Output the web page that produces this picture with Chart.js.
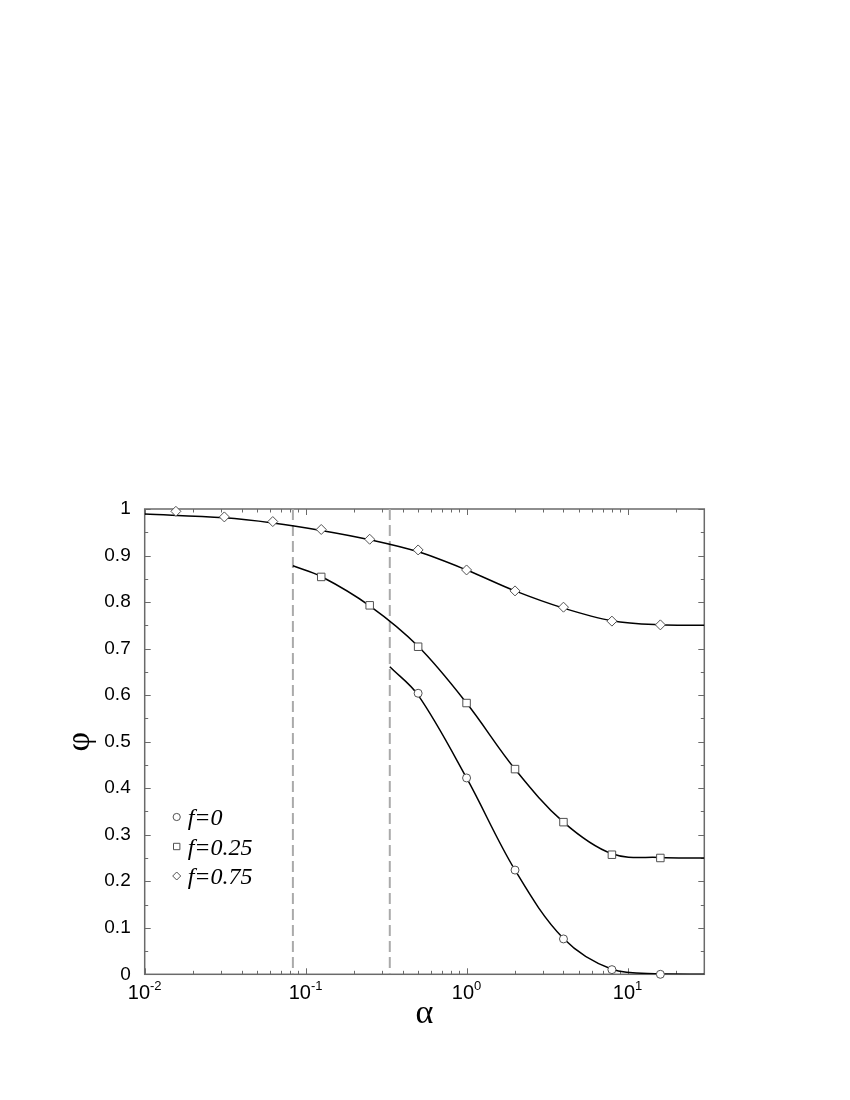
<!DOCTYPE html>
<html>
<head>
<meta charset="utf-8">
<script src="https://cdn.jsdelivr.net/npm/chart.js"></script>
<style>
  body { margin: 0; background: #fff; }
  canvas { display: block; }
</style>
</head>
<body>
<canvas id="phiChart" width="850" height="1100"></canvas>
<script>
// simulation points (open markers)
const alphaF075 = [1/64, 1/32, 1/16, 1/8, 1/4, 1/2, 1, 2, 4, 8, 16];
const phiF075 = [0.995, 0.983, 0.973, 0.956, 0.935, 0.912, 0.869, 0.824, 0.789, 0.759, 0.751];
const alphaF025 = [1/8, 1/4, 1/2, 1, 2, 4, 8, 16];
const phiF025 = [0.854, 0.793, 0.704, 0.583, 0.441, 0.327, 0.257, 0.250];
const alphaF0 = [1/2, 1, 2, 4, 8, 16];
const phiF0 = [0.604, 0.422, 0.224, 0.076, 0.010, 0.000];

// theory curves
const curveA075 = [0.01, 1/32, 1/16, 1/8, 1/4, 1/2, 1, 2, 4, 8, 16, 30];
const curveF075 = [0.989, 0.981, 0.970, 0.954, 0.934, 0.908, 0.869, 0.824, 0.787, 0.760, 0.751, 0.750];
const curveA025 = [1/12, 1/8, 1/4, 1/2, 1, 2, 4, 8, 16, 30];
const curveF025 = [0.878, 0.855, 0.792, 0.705, 0.583, 0.441, 0.327, 0.259, 0.251, 0.250];
const curveA0 = [1/3, 1/2, 1, 2, 4, 8, 16, 30];
const curveF0 = [0.661, 0.600, 0.422, 0.224, 0.077, 0.011, 0.001, 0.000];

// vertical dashed markers
const dashAlpha = [1/12, 1/3];

const legendLabels = ['f=0', 'f=0.25', 'f=0.75'];
const legendStyles = ['circle', 'rect', 'rectRot'];
const xDecades = [-2, -1, 0, 1];

const toPts = (xs, ys) => xs.map((v, i) => ({x: v, y: ys[i]}));

const markerSet = (xs, ys, style, r) => ({
  data: toPts(xs, ys),
  showLine: false,
  pointStyle: style,
  pointRadius: r,
  pointBorderColor: '#505050',
  pointBackgroundColor: '#fff',
  pointBorderWidth: 1,
  clip: false
});

const curveSet = (xs, ys) => ({
  data: toPts(xs, ys),
  borderColor: '#000',
  borderWidth: 1.5,
  pointRadius: 0,
  tension: 0.35,
  fill: false
});

const dashSet = (a) => ({
  data: [{x: a, y: 1}, {x: a, y: 0}],
  borderColor: '#aaaaaa',
  borderWidth: 2,
  borderDash: [11, 5],
  pointRadius: 0,
  fill: false
});

// frame with inward ticks on all sides
const frameTicks = {
  id: 'frameTicks',
  beforeDatasetsDraw(chart) {
    const {ctx, chartArea: a, scales: {x, y}} = chart;
    ctx.save();
    ctx.strokeStyle = '#6a6a6a';
    ctx.lineWidth = 1;
    const seg = (x1, y1, x2, y2) => { ctx.beginPath(); ctx.moveTo(x1, y1); ctx.lineTo(x2, y2); ctx.stroke(); };
    for (let e = -2; e <= 1; e++) {
      for (let m = 1; m <= 9; m++) {
        const v = m * Math.pow(10, e);
        if (v < 0.01 || v > 30) continue;
        const px = Math.round(x.getPixelForValue(v)) + 0.5;
        const len = m === 1 ? 6 : 3.5;
        seg(px, a.bottom, px, a.bottom - len);
        seg(px, a.top, px, a.top + len);
      }
    }
    for (let i = 0; i <= 20; i++) {
      const py = Math.round(y.getPixelForValue(i / 20)) + 0.5;
      const len = i % 2 === 0 ? 6 : 3.5;
      seg(a.left, py, a.left + len, py);
      seg(a.right, py, a.right - len, py);
    }
    ctx.lineWidth = 1.5;
    ctx.strokeRect(a.left, a.top, a.right - a.left, a.bottom - a.top);
    ctx.restore();
  },
  afterDraw(chart) {
    const {ctx, chartArea: a, scales: {x}} = chart;
    ctx.save();
    ctx.fillStyle = '#000';
    ctx.textBaseline = 'middle';
    // x tick labels 10^n
    xDecades.forEach(e => {
      const px = x.getPixelForValue(Math.pow(10, e));
      ctx.font = '20px "Liberation Sans", Arial, sans-serif';
      const wb = ctx.measureText('10').width;
      ctx.font = '13px "Liberation Sans", Arial, sans-serif';
      const exp = String(e);
      const we = ctx.measureText(exp).width;
      const x0 = px - (wb + we) / 2;
      ctx.font = '20px "Liberation Sans", Arial, sans-serif';
      ctx.textAlign = 'left';
      ctx.fillText('10', x0, a.bottom + 19);
      ctx.font = '13px "Liberation Sans", Arial, sans-serif';
      ctx.fillText(exp, x0 + wb, a.bottom + 12);
    });
    // x axis title
    ctx.textAlign = 'center';
    ctx.font = '34px "Liberation Serif", "DejaVu Serif", serif';
    ctx.fillText('α', (a.left + a.right) / 2, a.bottom + 40);
    // legend inside plot
    const lx = a.left + 32, ly0 = 817, dy = 29.5;
    const sizes = [3.6, 3.2, 4];
    legendLabels.forEach((lab, i) => {
      const cy = ly0 + i * dy;
      ctx.strokeStyle = '#505050';
      ctx.fillStyle = '#fff';
      ctx.lineWidth = 1;
      const r = sizes[i];
      ctx.beginPath();
      if (legendStyles[i] === 'circle') {
        ctx.arc(lx, cy, r, 0, Math.PI * 2);
      } else if (legendStyles[i] === 'rect') {
        ctx.rect(lx - r, cy - r, 2 * r, 2 * r);
      } else {
        ctx.moveTo(lx - r, cy); ctx.lineTo(lx, cy - r); ctx.lineTo(lx + r, cy); ctx.lineTo(lx, cy + r); ctx.closePath();
      }
      ctx.fill();
      ctx.stroke();
      ctx.fillStyle = '#000';
      ctx.textAlign = 'left';
      ctx.textBaseline = 'alphabetic';
      ctx.font = 'italic 24px "Liberation Serif", "DejaVu Serif", serif';
      ctx.fillText(lab, lx + 11, cy + 8);
    });
    ctx.restore();
  }
};

new Chart(document.getElementById('phiChart'), {
  type: 'line',
  data: {
    datasets: [
      markerSet(alphaF0, phiF0, 'circle', 4),
      markerSet(alphaF025, phiF025, 'rect', 5.3),
      markerSet(alphaF075, phiF075, 'rectRot', 5),
      curveSet(curveA0, curveF0),
      curveSet(curveA025, curveF025),
      curveSet(curveA075, curveF075),
      dashSet(dashAlpha[0]),
      dashSet(dashAlpha[1])
    ]
  },
  options: {
    responsive: false,
    animation: false,
    devicePixelRatio: 1,
    layout: { padding: { left: 0, top: 509, right: 145.7, bottom: 125.7 } },
    plugins: { legend: { display: false }, tooltip: { enabled: false } },
    scales: {
      x: { type: 'logarithmic', min: 0.01, max: 30, display: false },
      y: {
        min: 0,
        max: 1,
        afterFit(scale) { scale.width = 144.7; },
        border: { display: false },
        grid: { display: false, drawTicks: false },
        ticks: {
          stepSize: 0.1,
          padding: 14,
          color: '#000',
          font: { family: '"Liberation Sans", Arial, sans-serif', size: 19 },
          callback: v => String(Math.round(v * 10) / 10)
        },
        title: {
          display: true,
          text: 'φ',
          color: '#000',
          padding: { top: 60, bottom: 0 },
          font: { family: '"Liberation Serif", "DejaVu Serif", serif', size: 34 }
        }
      }
    }
  },
  plugins: [frameTicks]
});
</script>
</body>
</html>
